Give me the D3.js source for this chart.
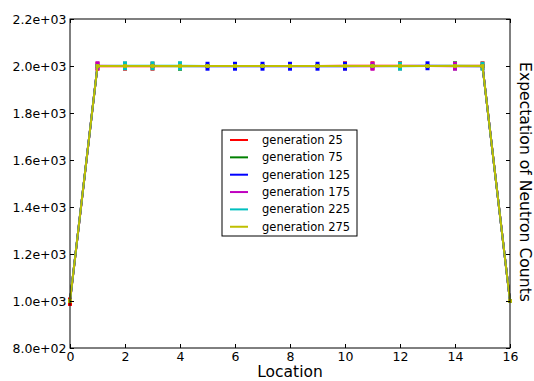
<!DOCTYPE html>
<html><head><meta charset="utf-8">
<script src="https://cdn.jsdelivr.net/npm/d3@7"></script>
<style>body{margin:0;background:#fff}svg{display:block}text{font-family:"DejaVu Sans",sans-serif}</style>
</head><body><svg id="c" width="534" height="381"></svg>
<script>
const locations = d3.range(0, 17);
const seriesNames = ["generation 25","generation 75","generation 125","generation 175","generation 225","generation 275"];
const seriesColors = ["#ff0000","#008000","#0000ff","#bf00bf","#00bfbf","#bfbf00"];
// mean expected counts per location
const gen25  = [997,1999,1999,1999,2000,2000,2000,2000,2000,2000,2001,2001,2001,2000,2000,2001,1000];
const gen75  = [1000,2000,2000,2000,1999,2000,2000,2000,2000,2000,2000,2000,2000,2000,2001,2000,1000];
const gen125 = [1000,2000,2000,2000,2000,1999,1999,1999,1999,1999,1999,2000,2000,2001,2000,2000,1000];
const gen175 = [1000,2001,2000,2000,2000,2000,2000,2000,2000,2000,2000,1999,2000,2000,1999,2000,1000];
const gen225 = [1000,2000,2001,2001,2001,2000,2000,2000,2000,2000,2000,2000,1999,2000,2000,1999,1000];
const gen275 = [1000,2000,2000,2000,2000,2000,2000,2000,2000,2000,2000,2000,2000,2000,2000,2000,1000];
// error bar half-widths
const err25  = [18,19,19,19,8,8,8,8,8,8,19,19,19,8,8,19,8];
const err75  = [8,8,8,8,19,8,8,8,8,8,8,8,8,8,19,8,8];
const err125 = [8,8,8,8,8,19,19,19,19,19,19,8,8,19,8,8,8];
const err175 = [8,19,8,8,8,8,8,8,8,8,8,19,8,8,19,8,8];
const err225 = [8,8,19,19,19,8,8,8,8,8,8,8,19,8,8,19,8];
const err275 = [8,8,8,8,8,8,8,8,8,8,8,8,8,8,8,8,8];
const seriesValues = [gen25, gen75, gen125, gen175, gen225, gen275];
const seriesErrors = [err25, err75, err125, err175, err225, err275];
const xTicks = [0,2,4,6,8,10,12,14,16];
const yTicks = [800,1000,1200,1400,1600,1800,2000,2200];
const yTickLabels = ["8.0e+02","1.0e+03","1.2e+03","1.4e+03","1.6e+03","1.8e+03","2.0e+03","2.2e+03"];

const L=70, R=510, T=19, B=348;
const svg = d3.select("#c");
const x = d3.scaleLinear().domain([0,16]).range([L,R]);
const y = d3.scaleLinear().domain([800,2200]).range([B,T]);

const plot = svg.append("g");
const line = d3.line().x((d,i)=>x(locations[i])).y(d=>y(d));
seriesValues.forEach((vals, s) => {
  const g = plot.append("g");
  const errs = seriesErrors[s];
  g.append("path").attr("d", line(vals)).attr("fill","none")
    .attr("stroke", seriesColors[s]).attr("stroke-width",2);
  g.selectAll("rect").data(vals).join("rect")
    .attr("x",(d,i)=>x(locations[i])-2).attr("width",4)
    .attr("y",(d,i)=>y(d+errs[i])).attr("height",(d,i)=>y(d-errs[i])-y(d+errs[i]))
    .attr("fill", seriesColors[s]);
});

// frame
svg.append("rect").attr("x",L).attr("y",T).attr("width",R-L).attr("height",B-T)
  .attr("fill","none").attr("stroke","#000").attr("stroke-width",1);

// axes with inward ticks
const ax = svg.append("g").attr("transform",`translate(0,${B})`)
  .call(d3.axisBottom(x).tickValues(xTicks).tickSize(-4).tickPadding(4).tickFormat(d3.format("d")));
const axTop = svg.append("g").attr("transform",`translate(0,${T})`)
  .call(d3.axisTop(x).tickValues(xTicks).tickSize(-4).tickFormat(""));
const ay = svg.append("g").attr("transform",`translate(${L},0)`)
  .call(d3.axisLeft(y).tickValues(yTicks).tickSize(-4).tickPadding(3.5).tickFormat((d,i)=>yTickLabels[i]));
const ayR = svg.append("g").attr("transform",`translate(${R},0)`)
  .call(d3.axisRight(y).tickValues(yTicks).tickSize(-4).tickFormat(""));
[ax,axTop,ay,ayR].forEach(a=>{
  a.select(".domain").remove();
  a.selectAll("line").attr("stroke","#000");
  a.selectAll("text").attr("font-size",12.5).attr("fill","#000").style("font-family","DejaVu Sans");
});

svg.append("text").attr("x",(L+R)/2).attr("y",377).attr("text-anchor","middle")
  .attr("font-size",15.5).text("Location");
svg.append("text").attr("transform",`translate(520,182) rotate(90)`).attr("text-anchor","middle")
  .attr("font-size",15.6).text("Expectation of Neutron Counts");

// legend
const lg = svg.append("g");
lg.append("rect").attr("x",222).attr("y",130).attr("width",135).attr("height",106)
  .attr("fill","#fff").attr("stroke","#000").attr("stroke-width",1);
seriesNames.forEach((n,i)=>{
  const yy = 140 + i*17.35;
  lg.append("line").attr("x1",230).attr("x2",248).attr("y1",yy).attr("y2",yy)
    .attr("stroke",seriesColors[i]).attr("stroke-width",2);
  lg.append("text").attr("x",262).attr("y",yy+4).attr("font-size",11.5).text(n);
});
</script></body></html>
